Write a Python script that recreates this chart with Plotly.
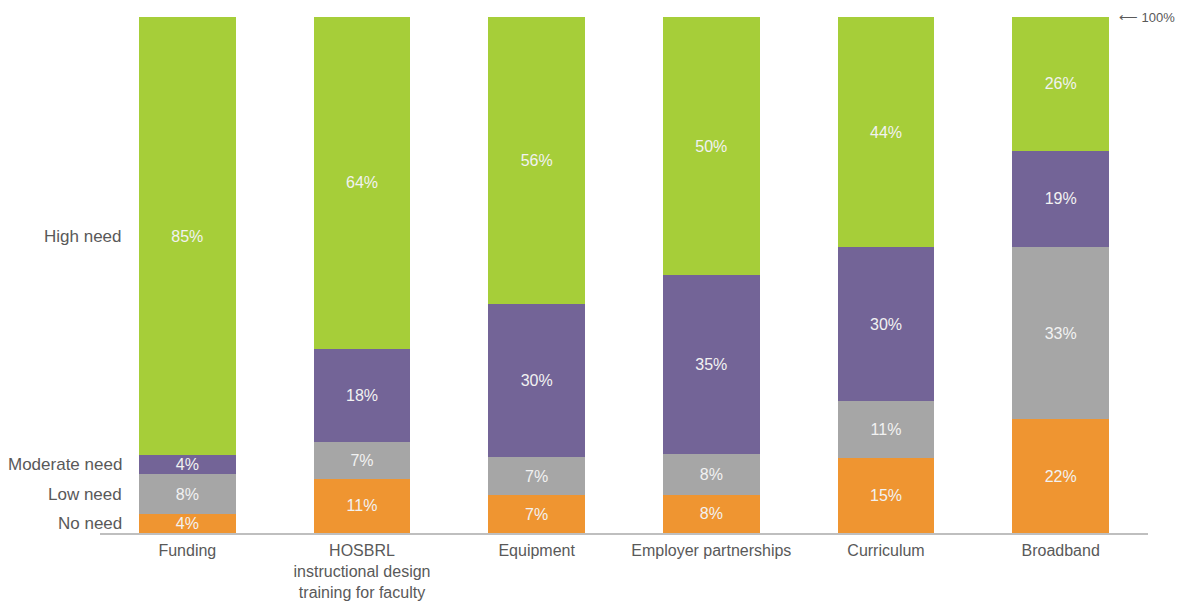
import plotly.graph_objects as go

categories = ["Funding", "HOSBRL<br>instructional design<br>training for faculty", "Equipment",
              "Employer partnerships", "Curriculum", "Broadband"]
series_names = ["No need", "Low need", "Moderate need", "High need"]

# Segment shares as measured from the bar heights in the picture
no_need = [3.7, 10.5, 7.3, 7.4, 14.6, 22.0]
low_need = [7.7, 7.1, 7.4, 7.9, 11.0, 33.4]
moderate_need = [3.7, 18.1, 29.8, 34.7, 29.7, 18.7]
high_need = [84.8, 64.3, 55.6, 50.0, 44.6, 25.9]

# Printed (rounded) labels shown in the bars
no_need_labels = [4, 11, 7, 8, 15, 22]
low_need_labels = [8, 7, 7, 8, 11, 33]
moderate_need_labels = [4, 18, 30, 35, 30, 19]
high_need_labels = [85, 64, 56, 50, 44, 26]

colors = ["#EF9531", "#A6A6A6", "#736497", "#A6CE39"]

series = [no_need, low_need, moderate_need, high_need]
labels = [no_need_labels, low_need_labels, moderate_need_labels, high_need_labels]
x = list(range(len(categories)))
FONT = "Liberation Sans, Arial"

fig = go.Figure()
for name, vals, labs, col in zip(series_names, series, labels, colors):
    fig.add_trace(go.Bar(
        x=x, y=vals, name=name, marker=dict(color=col, line=dict(width=0)),
        text=[f"{v}%" for v in labs], textposition="inside", insidetextanchor="middle",
        textangle=0, textfont=dict(color="#F2F2F2", size=16, family=FONT),
        hoverinfo="skip", showlegend=False,
    ))

# Left-side labels next to the first bar, centered on its segments
first = [s[0] for s in series]
tot = sum(first)
cum = 0
annotations = []
for name, v in zip(series_names, first):
    frac = v / tot * 100
    annotations.append(dict(
        x=-0.36, y=cum + frac / 2, xref="x", yref="y", text=name, showarrow=False,
        xanchor="right", yanchor="middle",
        font=dict(size=17, color="#595959", family=FONT)))
    cum += frac

annotations.append(dict(
    x=5.32, y=100, xref="x", yref="y", text="⟵ 100%", showarrow=False,
    xanchor="left", yanchor="middle",
    font=dict(size=13, color="#595959", family=FONT)))

fig.update_layout(
    barmode="stack", barnorm="percent", bargap=0.445,
    width=1178, height=601,
    margin=dict(l=100, r=30, t=17, b=68, autoexpand=False),
    paper_bgcolor="white", plot_bgcolor="white",
    uniformtext=dict(minsize=16, mode="show"),
    annotations=annotations,
    xaxis=dict(tickmode="array", tickvals=x, ticktext=categories, range=[-0.5, 5.5],
               showline=True, linecolor="#BFBFBF", linewidth=2, ticks="", showgrid=False,
               zeroline=False, automargin=False, ticklabelstandoff=2,
               tickfont=dict(size=16, color="#595959", family=FONT)),
    yaxis=dict(range=[0, 100], visible=False, showgrid=False, zeroline=False, automargin=False),
)

fig.write_html("out.html")
